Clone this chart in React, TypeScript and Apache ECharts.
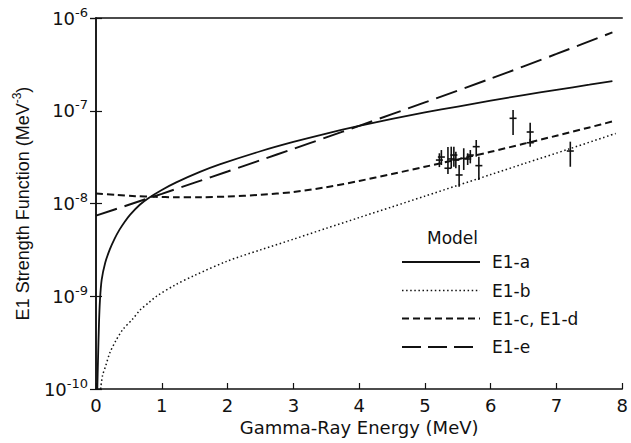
import React, { useEffect, useRef } from "react";
import * as echarts from "echarts";

const xTicks = [0, 1, 2, 3, 4, 5, 6, 7, 8];
const yDecades = [-10, -9, -8, -7, -6];

const aE = [0.02, 0.03, 0.045, 0.06, 0.086, 0.14, 0.21, 0.28, 0.36, 0.44, 0.52, 0.67, 0.79, 1.0, 1.22, 1.58, 1.88, 2.5, 3.0, 3.5, 4.0, 4.5, 5.0, 5.5, 6.0, 6.5, 7.0, 7.5, 7.85];
const aV = [1.0e-10, 2.0e-10, 5.0e-10, 9.0e-10, 1.5e-9, 2.3e-9, 3.2e-9, 4.14e-9, 5.26e-9, 6.41e-9, 7.6e-9, 9.75e-9, 1.135e-8, 1.4e-8, 1.69e-8, 2.19e-8, 2.64e-8, 3.66e-8, 4.61e-8, 5.68e-8, 6.86e-8, 8.15e-8, 9.58e-8, 1.11e-7, 1.285e-7, 1.476e-7, 1.68e-7, 1.91e-7, 2.09e-7];

const bE = [0.07, 0.1, 0.15, 0.21, 0.3, 0.41, 0.55, 0.67, 0.8, 0.92, 1.2, 1.5, 2.0, 2.5, 3.0, 3.5, 4.0, 4.5, 5.0, 5.5, 6.0, 6.5, 7.19, 7.9];
const bV = [1e-10, 1.4e-10, 1.8e-10, 2.45e-10, 3.3e-10, 4.4e-10, 5.6e-10, 7.1e-10, 8.5e-10, 1.0e-9, 1.32e-9, 1.68e-9, 2.4e-9, 3.16e-9, 4.12e-9, 5.4e-9, 7.05e-9, 9.2e-9, 1.2e-8, 1.57e-8, 2.05e-8, 2.68e-8, 3.87e-8, 5.69e-8];

const cE = [0, 0.3, 0.6, 0.9, 1.2, 1.6, 2.0, 2.5, 3.0, 3.5, 4.0, 4.5, 5.0, 5.5, 6.0, 6.5, 7.0, 7.5, 7.9];
const cV = [1.28e-8, 1.24e-8, 1.2e-8, 1.18e-8, 1.17e-8, 1.17e-8, 1.19e-8, 1.24e-8, 1.33e-8, 1.5e-8, 1.75e-8, 2.08e-8, 2.49e-8, 2.99e-8, 3.61e-8, 4.4e-8, 5.38e-8, 6.61e-8, 7.83e-8];

const eE = [0, 0.5, 1, 1.5, 2, 2.5, 3, 3.5, 4, 5, 6, 7, 7.85];
const eV = [7.4e-9, 9.7e-9, 1.27e-8, 1.68e-8, 2.21e-8, 2.93e-8, 3.88e-8, 5.16e-8, 6.87e-8, 1.23e-7, 2.22e-7, 4.1e-7, 7.0e-7];

const ptE = [5.22, 5.25, 5.35, 5.40, 5.44, 5.47, 5.52, 5.59, 5.65, 5.69, 5.78, 5.82, 6.34, 6.60, 6.60, 7.21];
const ptV = [2.94e-8, 3.17e-8, 2.40e-8, 3.02e-8, 3.33e-8, 2.94e-8, 2.03e-8, 3.07e-8, 3.02e-8, 3.33e-8, 4.10e-8, 2.56e-8, 8.29e-8, 5.90e-8, 4.52e-8, 3.68e-8];
const ptLo = [2.47e-8, 2.60e-8, 2.08e-8, 2.41e-8, 2.49e-8, 2.40e-8, 1.52e-8, 2.30e-8, 2.60e-8, 2.71e-8, 3.20e-8, 1.79e-8, 5.48e-8, 4.60e-8, 4.10e-8, 2.49e-8];
const ptHi = [3.48e-8, 3.77e-8, 4.07e-8, 4.10e-8, 4.10e-8, 3.62e-8, 2.60e-8, 3.94e-8, 3.48e-8, 3.77e-8, 4.84e-8, 3.20e-8, 1.02e-7, 7.43e-8, 5.0e-8, 4.64e-8];

const names = ["E1-a", "E1-b", "E1-c, E1-d", "E1-e"];
const dashes: any[] = ["solid", [1.5, 2.6], [7, 4], [22, 8]];
const legendDashes: any[] = [null, [1.5, 2.6], [7, 4], [19, 7]];
const widths = [1.8, 1.5, 2, 2];
const legendTitle = "Model";

const FONT = "'DejaVu Sans', 'Liberation Sans', Arial, sans-serif";
const FONT_N = "'Liberation Sans', Arial, Helvetica, sans-serif";
const INK = "#111";

function pairs(xs: number[], ys: number[]) {
  return xs.map((x, i) => [x, ys[i]]);
}

export default function App() {
  const ref = useRef<HTMLDivElement>(null);
  useEffect(() => {
    document.body.style.margin = "0";
    if (!ref.current) return;
    const chart = echarts.init(ref.current, undefined, { renderer: "svg" });
    const series: any[] = [aE, bE, cE, eE].map((xs, k) => ({
      name: names[k],
      type: "line",
      data: pairs(xs, [aV, bV, cV, eV][k]),
      smooth: 0.3,
      symbol: "none",
      lineStyle: { color: INK, width: widths[k], type: dashes[k], cap: "butt" },
      z: 3,
    }));
    series.push({
      name: "data",
      type: "custom",
      data: ptE.map((x, i) => [x, ptV[i], ptLo[i], ptHi[i]]),
      encode: { x: 0, y: 1 },
      z: 4,
      renderItem: (_p: any, api: any) => {
        const x = api.value(0);
        const c = api.coord([x, api.value(1)]);
        const lo = api.coord([x, api.value(2)]);
        const hi = api.coord([x, api.value(3)]);
        const st = { stroke: INK, lineWidth: 1.6 };
        return {
          type: "group",
          children: [
            { type: "line", shape: { x1: c[0], y1: hi[1], x2: c[0], y2: lo[1] }, style: st },
            { type: "line", shape: { x1: c[0] - 3.5, y1: c[1], x2: c[0] + 3.5, y2: c[1] }, style: st },
          ],
        };
      },
    });

    const rowY = [262, 290.5, 318.5, 347];
    const legendGraphics: any[] = [
      {
        type: "text",
        x: 427,
        y: 238,
        style: { text: legendTitle, fontSize: 17, fontFamily: FONT, fill: INK, verticalAlign: "middle" },
      },
    ];
    names.forEach((n, k) => {
      legendGraphics.push({
        type: "line",
        shape: { x1: 402, y1: rowY[k], x2: 480, y2: rowY[k] },
        style: { stroke: INK, lineWidth: widths[k], lineDash: legendDashes[k] || undefined },
      });
      legendGraphics.push({
        type: "text",
        x: 492,
        y: rowY[k],
        style: { text: n, fontSize: 17, fontFamily: FONT, fill: INK, verticalAlign: "middle" },
      });
    });

    chart.setOption({
      animation: false,
      backgroundColor: "#fff",
      textStyle: { fontFamily: FONT, color: INK },
      grid: { left: 96, right: 8, top: 18, bottom: 54, containLabel: false },
      xAxis: [
        {
          type: "value",
          min: 0,
          max: 8,
          interval: 1,
          position: "bottom",
          name: "Gamma-Ray Energy (MeV)",
          nameLocation: "middle",
          nameGap: 29,
          nameTextStyle: { fontSize: 18, color: INK, fontFamily: FONT },
          axisLine: { lineStyle: { color: INK, width: 1.5 } },
          axisTick: { inside: true, length: 6, lineStyle: { color: INK, width: 1.2 } },
          axisLabel: {
            fontSize: 18,
            color: INK,
            margin: 7,
            fontFamily: FONT,
            formatter: (v: number) => (xTicks.includes(v) ? String(v) : ""),
          },
          splitLine: { show: false },
        },
        {
          type: "value",
          min: 0,
          max: 8,
          position: "top",
          axisLine: { show: true, lineStyle: { color: INK, width: 1.5 } },
          axisTick: { show: false },
          axisLabel: { show: false },
          splitLine: { show: false },
        },
      ],
      yAxis: [
        {
          type: "log",
          logBase: 10,
          min: 1e-10,
          max: 1e-6,
          position: "left",
          name: "{a|E1 Strength Function (MeV}{s|-3}{a|)}",
          nameLocation: "middle",
          nameGap: 62,
          nameTextStyle: {
            fontFamily: FONT_N,
            color: INK,
            rich: {
              a: { fontSize: 18, fontFamily: FONT_N, color: INK },
              s: { fontSize: 12, fontFamily: FONT_N, color: INK, padding: [0, 0, 11, 0] },
            },
          },
          axisLine: { lineStyle: { color: INK, width: 1.5 } },
          axisTick: { inside: true, length: 6, lineStyle: { color: INK, width: 1.2 } },
          minorTick: { show: false },
          axisLabel: {
            margin: 8,
            formatter: (v: number) => {
              const ex = Math.round(Math.log10(v));
              return yDecades.includes(ex) ? `{b|10}{s|${ex}}` : "";
            },
            rich: {
              b: { fontSize: 18, fontFamily: FONT, color: INK },
              s: { fontSize: 13, fontFamily: FONT, color: INK, padding: [0, 0, 12, 0] },
            },
          },
          splitLine: { show: false },
        },
        {
          type: "log",
          logBase: 10,
          min: 1e-10,
          max: 1e-6,
          position: "right",
          axisLine: { show: true, lineStyle: { color: INK, width: 1.5 } },
          axisTick: { show: true, inside: true, length: 6, lineStyle: { color: INK, width: 1.2 } },
          axisLabel: { show: false },
          splitLine: { show: false },
        },
      ],
      graphic: legendGraphics,
      series,
    });
    return () => chart.dispose();
  }, []);
  return <div ref={ref} style={{ width: 631, height: 443 }} />;
}
